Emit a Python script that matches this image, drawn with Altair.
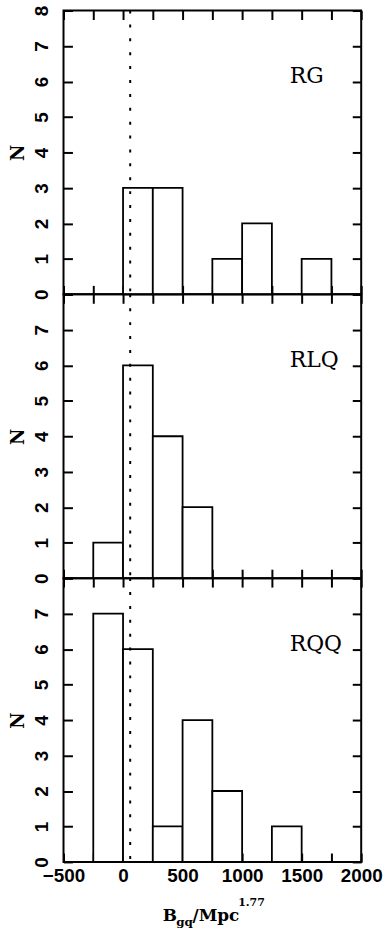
import altair as alt
import pandas as pd

# ---- data ----
bin_lo = [-250, 0, 250, 500, 750, 1000, 1250, 1500]
bin_width = 250
rg_counts = [0, 3, 3, 0, 1, 2, 0, 1]
rlq_counts = [1, 6, 4, 2, 0, 0, 0, 0]
rqq_counts = [7, 6, 1, 4, 2, 0, 1, 0]
panel_names = ["RG", "RLQ", "RQQ"]
x_ticks = [-500, -250, 0, 250, 500, 750, 1000, 1250, 1500, 1750, 2000]
y_ticks = [0, 1, 2, 3, 4, 5, 6, 7, 8]
divider_value = [60]
label_x = [1400]
label_y = [5.95]
x_domain = [-500, 2000]
y_domain = [0, 8]

# ---- layout / style ----
W, H = 300, 286
TICK = 9
SANS = "Liberation Sans"
SERIF = "DejaVu Serif"
X_CENTER = 750


def panel(name, counts, first, last):
    df = pd.DataFrame({
        "lo": bin_lo,
        "hi": [b + bin_width for b in bin_lo],
        "n": counts,
    })
    df = df[df["n"] > 0]
    xs = alt.Scale(domain=x_domain, nice=False, zero=False)
    ys = alt.Scale(domain=y_domain, nice=False, zero=False)

    bottom_axis = alt.Axis(
        orient="bottom", values=x_ticks, offset=-TICK, tickSize=TICK,
        domain=False, grid=False, labels=last, title=None,
        labelExpr="datum.value % 500 == 0 ? format(datum.value, 'd') : ''",
        labelFont=SANS, labelFontWeight="bold", labelFontSize=19,
        labelColor="black", labelPadding=5, labelFlush=False,
        labelOverlap=False, tickColor="black", tickWidth=2,
    )
    left_expr = "format(datum.value, 'd')" if first else "datum.value == 8 ? '' : format(datum.value, 'd')"
    left_axis = alt.Axis(
        orient="left", values=y_ticks, offset=-TICK, tickSize=TICK,
        domain=False, grid=False, labelExpr=left_expr,
        labelAngle=270, labelAlign="center", labelBaseline="alphabetic",
        labelPadding=16, labelFont=SANS, labelFontWeight="bold",
        labelFontSize=19, labelColor="black", labelOverlap=False,
        labelFlush=False, tickColor="black", tickWidth=2,
        title="N", titleAngle=270, titleX=-54, titleY=H / 2,
        titleAlign="center", titleBaseline="middle", titleFont=SERIF,
        titleFontWeight="bold", titleFontSize=18, titleColor="black",
    )
    top_axis = alt.Axis(
        orient="top", values=x_ticks, offset=-TICK, tickSize=TICK,
        domain=False, grid=False, labels=False, title=None,
        tickColor="black", tickWidth=2,
    )
    right_axis = alt.Axis(
        orient="right", values=y_ticks, offset=-TICK, tickSize=TICK,
        domain=False, grid=False, labels=False, title=None,
        tickColor="black", tickWidth=2,
    )

    bars = alt.Chart(df).mark_rect(
        fill="white", stroke="black", strokeWidth=1.8
    ).encode(
        x=alt.X("lo:Q", scale=xs, axis=bottom_axis),
        x2="hi:Q",
        y=alt.Y("n:Q", scale=ys, axis=left_axis),
        y2=alt.Y2Datum(0),
    )

    divider = alt.Chart(pd.DataFrame({"v": divider_value})).mark_rule(
        stroke="black", strokeWidth=2, strokeDash=[3, 11]
    ).encode(x=alt.X("v:Q", scale=xs, axis=None))

    lab = alt.Chart(pd.DataFrame({"t": [name], "tx": label_x, "ty": label_y})).mark_text(
        font=SERIF, fontSize=22, align="left", baseline="alphabetic", color="black"
    ).encode(
        x=alt.X("tx:Q", scale=xs, axis=top_axis),
        y=alt.Y("ty:Q", scale=ys, axis=right_axis),
        text="t:N",
    )

    layers = [bars, divider, lab]

    if last:
        pieces = [
            ("B", 17, -50, 60),
            ("gq", 12, -36.5, 65),
            ("/Mpc", 17, -20, 60),
            ("1.77", 11, 26, 44),
        ]
        for txt, size, dx, dy in pieces:
            layers.append(
                alt.Chart(pd.DataFrame({"t": [txt]})).mark_text(
                    font=SERIF, fontWeight="bold", fontSize=size, align="left",
                    baseline="alphabetic", dx=dx, dy=dy, color="black",
                ).encode(
                    x=alt.XDatum(X_CENTER, scale=xs, axis=None),
                    y=alt.YDatum(0, scale=ys, axis=None),
                    text="t:N",
                )
            )

    return alt.layer(*layers).resolve_axis(x="independent", y="independent").properties(
        width=W, height=H
    )


chart = alt.vconcat(
    panel("RG", rg_counts, True, False),
    panel("RLQ", rlq_counts, False, False),
    panel("RQQ", rqq_counts, False, True),
    spacing=0,
    bounds="flush",
).properties(
    padding={"left": 9, "top": 0, "right": 3, "bottom": 3},
    background="white",
).configure_view(
    stroke="black", strokeWidth=2
)

chart.save("out.html", embed_options={"renderer": "svg", "actions": False})
